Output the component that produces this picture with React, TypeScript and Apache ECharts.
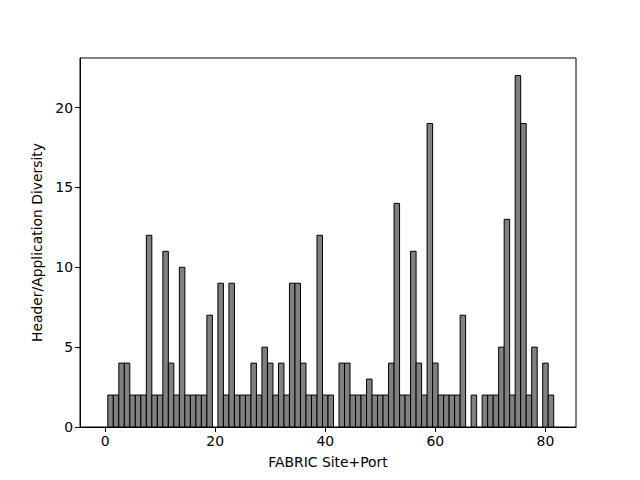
import React, { useEffect, useRef } from "react";
import * as echarts from "echarts";

// Header/Application diversity per FABRIC site+port index (0..81)
const diversity: number[] = [
  0, 2, 2, 4, 4, 2, 2, 2, 12, 2,
  2, 11, 4, 2, 10, 2, 2, 2, 2, 7,
  0, 9, 2, 9, 2, 2, 2, 4, 2, 5,
  4, 2, 4, 2, 9, 9, 4, 2, 2, 12,
  2, 2, 0, 4, 4, 2, 2, 2, 3, 2,
  2, 2, 4, 14, 2, 2, 11, 4, 2, 19,
  4, 2, 2, 2, 2, 7, 0, 2, 0, 2,
  2, 2, 5, 13, 2, 22, 19, 2, 5, 0,
  4, 2,
];
const xTicks: number[] = [0, 20, 40, 60, 80];
const yTicks: number[] = [0, 5, 10, 15, 20];

const FONT = "DejaVu Sans";

export default function App() {
  const ref = useRef<HTMLDivElement>(null);
  useEffect(() => {
    if (!ref.current) return;
    const chart = echarts.init(ref.current, undefined, { renderer: "svg" });
    const data = diversity.map((v, i) => [i, v]);
    chart.setOption({
      animation: false,
      backgroundColor: "#ffffff",
      grid: {
        left: 80,
        right: 64,
        top: 58,
        bottom: 53,
        show: true,
        borderColor: "#000",
        borderWidth: 1,
        backgroundColor: "transparent",
      },
      xAxis: {
        type: "value",
        min: -4.55,
        max: 85.55,
        name: "FABRIC Site+Port",
        nameLocation: "middle",
        nameGap: 28,
        nameTextStyle: { fontFamily: FONT, fontSize: 13.9, color: "#000", verticalAlign: "top" },
        splitLine: { show: false },
        axisLine: { show: true, onZero: false, lineStyle: { color: "#000", width: 1 } },
        axisTick: { show: true, inside: false, length: 5, customValues: xTicks, lineStyle: { color: "#000" } },
        axisLabel: {
          customValues: xTicks,
          fontFamily: FONT,
          fontSize: 13.9,
          color: "#000",
          margin: 7,
        },
      },
      yAxis: {
        type: "value",
        min: 0,
        max: 23.1,
        name: "Header/Application Diversity",
        nameLocation: "middle",
        nameGap: 33,
        nameRotate: 90,
        nameTextStyle: { fontFamily: FONT, fontSize: 13.9, color: "#000" },
        splitLine: { show: false },
        axisLine: { show: true, onZero: false, lineStyle: { color: "#000", width: 1 } },
        axisTick: { show: true, inside: false, length: 5, customValues: yTicks, lineStyle: { color: "#000" } },
        axisLabel: {
          customValues: yTicks,
          fontFamily: FONT,
          fontSize: 13.9,
          color: "#000",
          margin: 7,
        },
      },
      series: [
        {
          type: "custom",
          data,
          encode: { x: 0, y: 1 },
          renderItem: (params: any, api: any) => {
            const x = api.value(0);
            const y = api.value(1);
            if (!y) return null;
            const p1 = api.coord([x - 0.5, y]);
            const p2 = api.coord([x + 0.5, 0]);
            return {
              type: "rect",
              shape: { x: p1[0], y: p1[1], width: p2[0] - p1[0], height: p2[1] - p1[1] },
              style: { fill: "#808080", stroke: "#000", lineWidth: 1 },
            };
          },
        },
      ],
    });
    return () => chart.dispose();
  }, []);
  return <div ref={ref} style={{ width: 640, height: 480, position: "absolute", left: 0, top: 0 }} />;
}
